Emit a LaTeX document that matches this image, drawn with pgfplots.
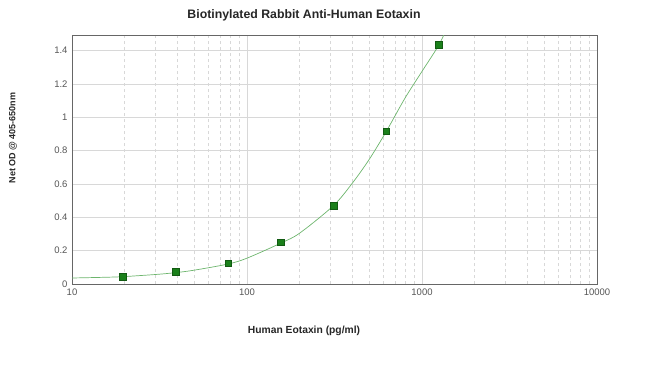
\documentclass[border=0pt]{standalone}
\usepackage{pgfplots}
\pgfplotsset{compat=1.18}
\usepackage{fontspec}
\setmainfont{Liberation Sans}
\definecolor{ptgreen}{HTML}{1A801A}
\definecolor{lngreen}{HTML}{6DB56D}
\definecolor{gridgray}{HTML}{D8D8D8}
\definecolor{ticktext}{HTML}{555555}
\begin{document}
\begin{tikzpicture}[x=1pt,y=1pt]
\path[use as bounding box] (0,0) rectangle (650,365);
\begin{axis}[
  at={(72pt,81pt)}, anchor=south west,
  scale only axis, width=525pt, height=248.5pt,
  xmode=log, xmin=10, xmax=10000, ymin=0, ymax=1.49,
  log basis x=10,
  xtick={10,100,1000,10000}, xticklabels={10,100,1000,10000},
  minor xtick={20,30,40,50,60,70,80,90,200,300,400,500,600,700,800,900,2000,3000,4000,5000,6000,7000,8000,9000},
  ytick={0,0.2,0.4,0.6,0.8,1,1.2,1.4},
  yticklabels={0,0.2,0.4,0.6,0.8,1,1.2,1.4},
  major tick length=0pt, minor tick length=0pt,
  xmajorgrids, ymajorgrids, xminorgrids,
  major grid style={gridgray, line width=0.6pt},
  minor grid style={gridgray, dashed, line width=0.5pt},
  axis line style={draw=gray!80!black, line width=0.6pt},
  tick label style={font=\fontsize{9.5}{10}\selectfont, text=ticktext},
  /pgf/number format/assume math mode=true,
  xticklabel style={yshift=-1pt},
  yticklabel style={xshift=-1pt},
  clip=true,
]
\addplot[lngreen, line width=0.7pt, smooth] coordinates {
 (10,0.036) (15,0.040) (19.5,0.044) (30,0.057) (39,0.068) (50,0.083)
 (78,0.120) (100,0.155) (156,0.245) (200,0.305) (312,0.470) (400,0.605)
 (500,0.748) (625,0.915) (800,1.115) (1000,1.275) (1250,1.434) (1400,1.545)
};
\addplot[only marks, mark=square*, mark size=3.3pt, ptgreen, mark options={draw=ptgreen!70!black, fill=ptgreen}] coordinates {
 (19.5,0.042) (39,0.072) (78,0.124) (156,0.250) (312,0.470) (625,0.917) (1250,1.434)
};
\end{axis}
\node[font=\bfseries\fontsize{12.3}{14}\selectfont, text=black!85] at (304,350) {Biotinylated Rabbit Anti-Human Eotaxin};
\node[font=\bfseries\fontsize{10.3}{12}\selectfont, text=black!85] at (304,34) {Human Eotaxin (pg/ml)};
\node[font=\bfseries\fontsize{9}{11}\selectfont, text=black!85, rotate=90] at (13,227) {Net OD @ 405-650nm};
\end{tikzpicture}
\end{document}
